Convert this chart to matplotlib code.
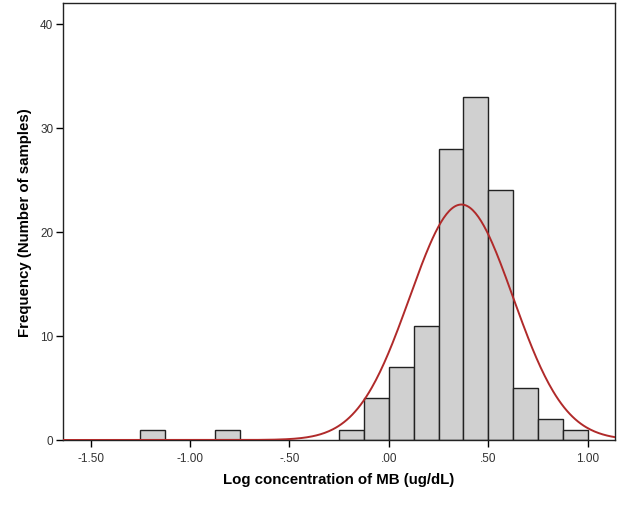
import numpy as np
import matplotlib
matplotlib.use('Agg')
import matplotlib.pyplot as plt

# histogram bins (left edges) and counts, bin width .125
bin_left = [-1.25, -0.875, -0.25, -0.125, 0.0, 0.125, 0.25, 0.375, 0.5, 0.625, 0.75, 0.875]
counts = [1, 1, 1, 4, 7, 11, 28, 33, 24, 5, 2, 1]
bin_width = 0.125

# fitted normal curve parameters
mean_val = 0.365
sd_val = 0.26
n_total = sum(counts)

xticks = [-1.5, -1.0, -0.5, 0.0, 0.5, 1.0]
xtick_labels = ['-1.50', '-1.00', '-.50', '.00', '.50', '1.00']
yticks = [0, 10, 20, 30, 40]

plt.rcParams['font.family'] = ['Liberation Sans', 'DejaVu Sans']

fig = plt.figure(figsize=(6.31, 5.06), dpi=100)
ax = fig.add_axes([0.0998, 0.1285, 0.8748, 0.8635])

ax.bar(bin_left, counts, width=bin_width, align='edge',
       color='#d0d0d0', edgecolor='#222222', linewidth=1.0, zorder=2)

xs = np.linspace(-1.64, 1.14, 400)
curve = n_total * bin_width / (sd_val * np.sqrt(2 * np.pi)) * np.exp(-0.5 * ((xs - mean_val) / sd_val) ** 2)
ax.plot(xs, curve, color='#b02a2a', linewidth=1.4, zorder=3)

ax.set_xlim(-1.64, 1.138)
ax.set_ylim(0, 42)
ax.set_xticks(xticks)
ax.set_xticklabels(xtick_labels)
ax.set_yticks(yticks)
ax.tick_params(direction='out', length=5, width=1, labelsize=8.5, labelcolor='#333333')
ax.tick_params(axis='y', pad=2)
ax.tick_params(axis='x', pad=4)
for s in ax.spines.values():
    s.set_color('#222222')
    s.set_linewidth(1.0)

ax.set_xlabel('Log concentration of MB (ug/dL)', fontsize=10.8, fontweight='bold')
ax.set_ylabel('Frequency (Number of samples)', fontsize=10.8, fontweight='bold')
# place labels at the same spots as the reference (pixels -> axes fraction)
ax.xaxis.set_label_coords(0.5, -39 / 437)
ax.yaxis.set_label_coords(-38 / 552, 0.5)
ax.xaxis.label.set_va('center')
ax.yaxis.label.set_va('center')

fig.savefig('out.png', dpi=100)
